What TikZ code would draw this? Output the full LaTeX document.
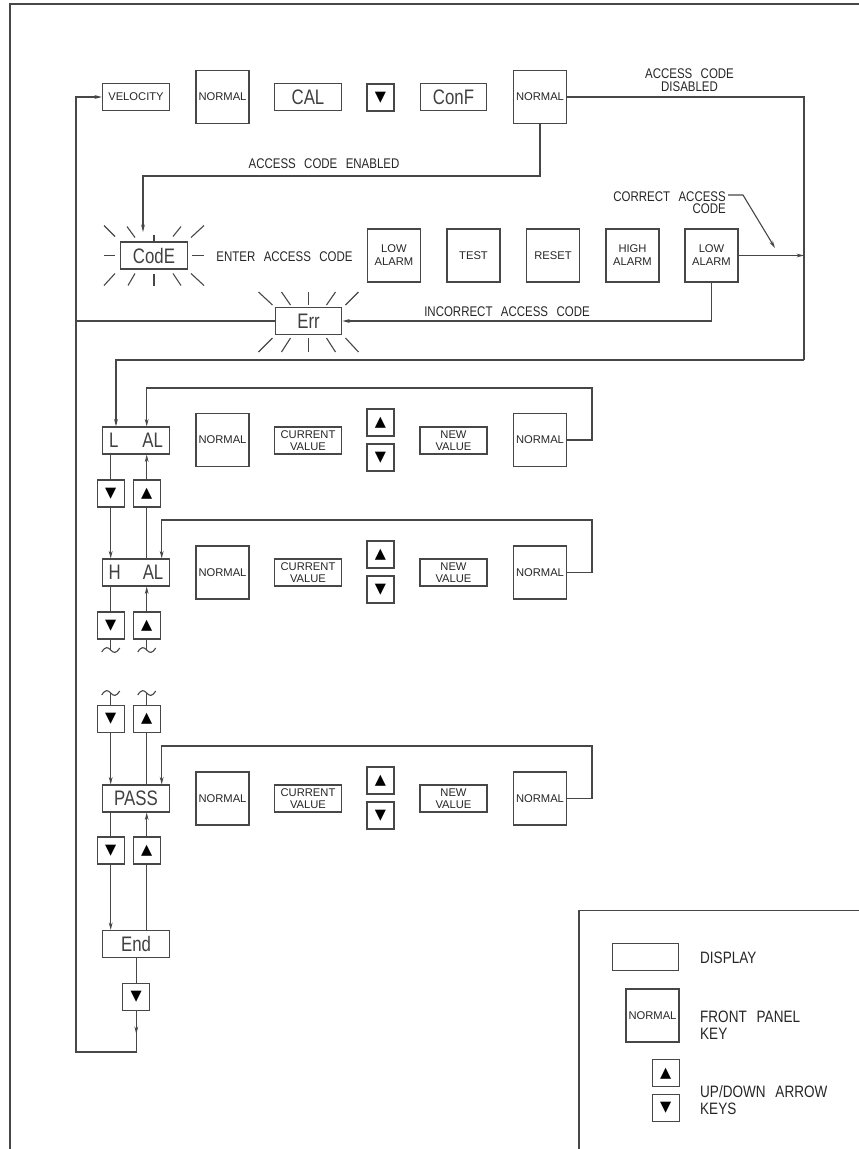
\documentclass[tikz,border=0pt]{standalone}
\usepackage{fontspec}
\setmainfont{Liberation Sans}
\newfontfamily\dispfont[FakeStretch=0.8]{Liberation Sans}
\newfontfamily\labfont[FakeStretch=0.82]{Liberation Sans}
\newfontfamily\symfont{DejaVu Sans}
\newcommand\mylabsp{\spaceskip=0.6em plus 0.1em\relax}
\usetikzlibrary{arrows.meta}
\begin{document}
\begin{tikzpicture}[x=1pt,y=-1pt,
  ln/.style={draw=black!72,line width=1.1pt},
  arr/.style={ln,-{Stealth[length=7.5pt,width=3.8pt]}},
  disp/.style={ln,minimum width=66.5pt,minimum height=27pt,inner sep=0pt,text=black!75,
    font=\dispfont\fontsize{21}{21}\selectfont},
  keysq/.style={ln,minimum width=53pt,minimum height=53pt,inner sep=0pt,align=center,text=black!85,
    font=\fontsize{11.2}{13}\selectfont},
  wkey/.style={ln,minimum width=67pt,minimum height=27pt,inner sep=0pt,align=center,text=black!85,
    font=\fontsize{11.2}{12.5}\selectfont},
  akey/.style={ln,minimum width=27pt,minimum height=27pt,inner sep=0pt,text=black,
    font=\symfont\fontsize{14.5}{14.5}\selectfont},
  lab/.style={inner sep=0pt,align=center,text=black!85,
    font=\labfont\fontsize{14}{12.5}\selectfont\mylabsp},
  leg/.style={inner sep=0pt,align=left,text=black!85,anchor=west,
    font=\labfont\fontsize{16.5}{17}\selectfont\mylabsp},
  tld/.pic={\draw[ln] (-9,2) .. controls (-5,-4) and (-3,-3) .. (0,0) .. controls (3,3) and (5,4) .. (9,-2);}
]
\useasboundingbox (0,0) rectangle (859,1149);
% outer frame
\coordinate (fA) at (10,1149);
\coordinate (fB) at (10,4);
\coordinate (fC) at (859,4);
\draw[ln] (fA) -- (fB) -- (fC);
% legend frame
\coordinate (gA) at (579,1149);
\coordinate (gB) at (579,910.7);
\coordinate (gC) at (859,910.7);
\draw[ln] (gA) -- (gB) -- (gC);

% ---------- top row
\node[wkey] (vel) at (136,97) {VELOCITY};
\node[keysq] (nA) at (222.5,97) {NORMAL};
\node[disp] (cal) at (308,97) {CAL};
\node[akey] (kTop) at (380.5,97.5) {▼};
\node[disp] (conf) at (453.5,97) {ConF};
\node[keysq] (nB) at (540,97) {NORMAL};
\node[lab] (lDis) at (689.5,80) {ACCESS CODE\\DISABLED};

% ---------- access code row
\node[disp] (code) at (154,255.5) {CodE};
\node[lab] (lEnter) at (284.5,257) {ENTER ACCESS CODE};
\node[keysq] (la1) at (394,255.5) {LOW\\ALARM};
\node[keysq] (test) at (473.5,255.5) {TEST};
\node[keysq] (reset) at (553,255.5) {RESET};
\node[keysq] (high) at (632.5,255.5) {HIGH\\ALARM};
\node[keysq] (la2) at (711.5,255.5) {LOW\\ALARM};
\node[lab] (lEn) at (324,164) {ACCESS CODE ENABLED};
\node[lab,align=right,anchor=east] (lCor) at (726,202.5) {CORRECT ACCESS\\CODE};
\node[disp] (err) at (308.5,321) {Err};
\node[lab] (lInc) at (507,312) {INCORRECT ACCESS CODE};

% flashing rays
\foreach \a/\b/\c/\d in {-50/-30/-39/-19, -27/-29/-19/-18, 0/-21/0/-15, 27/-29/19/-19, 50/-30/37/-18,
  -50/30/-39/18, -26/30/-19/18, 0/30/0/18, 27/30/19/18, 50/30/37/18, -50/0/-39/0, 38/0/50/0}
  \draw[ln] ([shift={(\a,\b)}]code.center) -- ([shift={(\c,\d)}]code.center);
\foreach \a/\b/\c/\d in {-50/-29/-36/-16, -27/-29/-18/-16, 0/-29/0/-16, 27/-29/18/-16, 50/-29/37/-16,
  -50/31/-36/17, -27/31/-18/17, 0/31/0/17, 27/31/18/17, 50/31/37/17}
  \draw[ln] ([shift={(\a,\b)}]err.center) -- ([shift={(\c,\d)}]err.center);

% ---------- L AL row
\node[disp] (lal) at (136,440.5) {L\hspace{24pt}AL};
\node[keysq] (n1a) at (222.5,440) {NORMAL};
\node[wkey] (cv1) at (308,440.5) {CURRENT\\VALUE};
\node[akey] (up1) at (380.5,422.5) {▲};
\node[akey] (dn1) at (380.5,457.5) {▼};
\node[wkey] (nv1) at (453.5,440.5) {NEW\\VALUE};
\node[keysq] (n1b) at (540,440) {NORMAL};
\node[akey] (kd1) at (110.7,493.5) {▼};
\node[akey] (ku1) at (146.7,493.5) {▲};

% ---------- H AL row
\node[disp] (hal) at (136,572.5) {H\hspace{22pt}AL};
\node[keysq] (n2a) at (222.5,572.5) {NORMAL};
\node[wkey] (cv2) at (308,572.5) {CURRENT\\VALUE};
\node[akey] (up2) at (380.5,554.5) {▲};
\node[akey] (dn2) at (380.5,589.5) {▼};
\node[wkey] (nv2) at (453.5,572.5) {NEW\\VALUE};
\node[keysq] (n2b) at (540,572.5) {NORMAL};
\node[akey] (kd2) at (110.7,625.5) {▼};
\node[akey] (ku2) at (146.7,625.5) {▲};

% ---------- PASS row
\node[akey] (kd3) at (110.7,719) {▼};
\node[akey] (ku3) at (146.7,719) {▲};
\node[disp] (pass) at (136,798.5) {PASS};
\node[keysq] (n3a) at (222.5,798.5) {NORMAL};
\node[wkey] (cv3) at (308,798.5) {CURRENT\\VALUE};
\node[akey] (up3) at (380.5,780.5) {▲};
\node[akey] (dn3) at (380.5,815.5) {▼};
\node[wkey] (nv3) at (453.5,798.5) {NEW\\VALUE};
\node[keysq] (n3b) at (540,798.5) {NORMAL};
\node[akey] (kd4) at (110.7,850.5) {▼};
\node[akey] (ku4) at (146.7,850.5) {▲};

% ---------- End
\node[disp] (end) at (136,944) {End};
\node[akey] (kE) at (136.3,997) {▼};

% ---------- legend
\node[disp] (dL) at (645.5,957) {};
\node[leg] (tD) at (700,957.5) {DISPLAY};
\node[keysq] (nL) at (652.5,1015.5) {NORMAL};
\node[leg] (tN) at (700,1025.5) {FRONT PANEL\\KEY};
\node[akey] (uL) at (665.7,1073.3) {▲};
\node[akey] (dL2) at (665.7,1108) {▼};
\node[leg] (tA) at (700,1100) {UP/DOWN ARROW\\KEYS};

% ---------- connectors
\coordinate (lc) at (76,97);
\coordinate (rc) at (804,97);
\coordinate (rb) at (804,360);
\coordinate (eA) at (143,176);
\coordinate (codeIn) at (143,232);
\coordinate (bot) at (136.3,1052);
\coordinate (botArr) at (136.3,1034);

\draw[arr] (kE.south) -- (bot) -| (lc) -- (vel.west);
\draw[arr] (kE.south) -- (botArr);
\draw[ln] (nB.east) -- (rc) -- (rb);
\draw[arr] (rb) -| ([xshift=-20pt]lal.north);
\draw[arr] (nB.south) |- (eA) -- (codeIn);
\draw[arr] (la2.east) -- (la2.east -| rc);
\draw[arr] (la2.south) |- (err.east);
\draw[ln] (err.west) -- (err.west -| lc);
\coordinate (cA) at (728,195);
\coordinate (cB) at (743,195);
\coordinate (cC) at (775,248);
\draw[arr] (cA) -- (cB) -- (cC);

% row loops
\coordinate (r1) at (592,388);
\coordinate (r2) at (592,520);
\coordinate (r3) at (592,746);
\draw[arr] (n1b.east) -| (r1) -| ([xshift=10.7pt]lal.north);
\draw[arr] (n2b.east) -| (r2) -| ([xshift=25.7pt]hal.north);
\draw[arr] (n3b.east) -| (r3) -| ([xshift=25.7pt]pass.north);

% vertical links
\draw[ln] (lal.south -| kd1.north) -- (kd1.north);
\draw[arr] (ku1.north) -- (ku1.north |- lal.south);
\draw[arr] (kd1.south) -- (kd1.south |- hal.north);
\draw[ln] (ku1.south) -- (ku1.south |- hal.north);
\draw[ln] (hal.south -| kd2.north) -- (kd2.north);
\draw[arr] (ku2.north) -- (ku2.north |- hal.south);
\coordinate (t1) at (110.7,650);
\coordinate (t2) at (146.7,650);
\coordinate (t3) at (110.7,693);
\coordinate (t4) at (146.7,693);
\draw[ln] (kd2.south) -- (t1);
\draw[ln] (ku2.south) -- (t2);
\pic at (t1) {tld};
\pic at (t2) {tld};
\pic at (t3) {tld};
\pic at (t4) {tld};
\draw[ln] (t3) -- (kd3.north);
\draw[ln] (t4) -- (ku3.north);
\draw[arr] (kd3.south) -- (kd3.south |- pass.north);
\draw[ln] (ku3.south) -- (ku3.south |- pass.north);
\draw[ln] (pass.south -| kd4.north) -- (kd4.north);
\draw[arr] (ku4.north) -- (ku4.north |- pass.south);
\draw[arr] (kd4.south) -- (kd4.south |- end.north);
\draw[ln] (ku4.south) -- (ku4.south |- end.north);
\draw[ln] (end.south -| kE.north) -- (kE.north);
\end{tikzpicture}
\end{document}
